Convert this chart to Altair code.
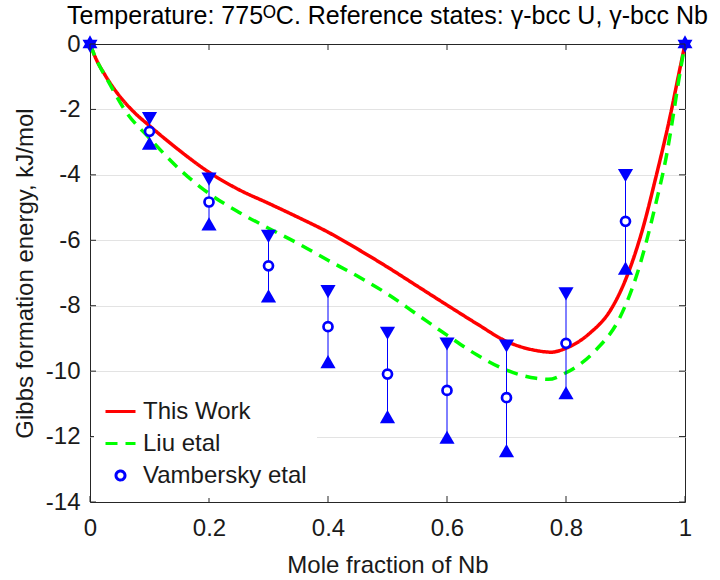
import altair as alt
import pandas as pd

# ---------------- data ----------------
series_names = ["This Work", "Liu etal", "Vambersky etal"]

x_this_work = [0.0, 0.01, 0.025, 0.05, 0.075, 0.1, 0.15, 0.2, 0.25, 0.3, 0.35, 0.4,
               0.45, 0.5, 0.55, 0.6, 0.65, 0.7, 0.75, 0.775, 0.8, 0.84, 0.875,
               0.9, 0.93, 0.95, 0.975, 0.99, 1.0]
g_this_work = [0.0, -0.45, -0.94, -1.6, -2.1, -2.5, -3.25, -3.92, -4.45, -4.87, -5.3,
               -5.75, -6.27, -6.82, -7.4, -7.98, -8.55, -9.09, -9.37, -9.42, -9.3,
               -8.84, -8.13, -7.21, -5.58, -4.15, -2.21, -0.88, 0.0]

x_liu = [0.0, 0.01, 0.03, 0.06, 0.1, 0.15, 0.2, 0.25, 0.3, 0.35, 0.4, 0.45, 0.5,
         0.55, 0.6, 0.65, 0.7, 0.75, 0.77, 0.8, 0.85, 0.89, 0.92, 0.95, 0.97,
         0.98, 0.99, 1.0]
g_liu = [0.0, -0.45, -1.12, -2.06, -2.88, -3.82, -4.57, -5.14, -5.63, -6.1, -6.61,
         -7.1, -7.64, -8.27, -8.9, -9.5, -9.97, -10.22, -10.25, -10.05, -9.36,
         -8.38, -7.0, -4.95, -3.3, -2.21, -1.05, 0.0]

x_vamb = [0.1, 0.2, 0.3, 0.4, 0.5, 0.6, 0.7, 0.8, 0.9]
g_vamb = [-2.67, -4.83, -6.78, -8.64, -10.09, -10.59, -10.81, -9.15, -5.42]
g_vamb_upper = [-2.28, -4.13, -5.88, -7.57, -8.84, -9.17, -9.23, -7.64, -4.02]
g_vamb_lower = [-3.03, -5.50, -7.70, -9.71, -11.39, -12.02, -12.43, -10.66, -6.85]

x_ref = [0.0, 1.0]
g_ref = [0.0, 0.0]

x_ticks = [0.0, 0.2, 0.4, 0.6, 0.8, 1.0]
y_ticks = [0, -2, -4, -6, -8, -10, -12, -14]

title_text = "Temperature: 775\u1d3cC. Reference states: \u03b3-bcc U, \u03b3-bcc Nb"
x_title = "Mole fraction of Nb"
y_title = "Gibbs formation energy, kJ/mol"

# ---------------- tables ----------------
lines_df = pd.concat([
    pd.DataFrame({"x": x_this_work, "y": g_this_work, "series": series_names[0]}),
    pd.DataFrame({"x": x_liu, "y": g_liu, "series": series_names[1]}),
], ignore_index=True)
vamb_df = pd.DataFrame({"x": x_vamb, "y": g_vamb, "hi": g_vamb_upper,
                        "lo": g_vamb_lower, "series": series_names[2]})
ref_df = pd.DataFrame({"x": x_ref, "y": g_ref})
xt_df = pd.DataFrame({"t": x_ticks})
yt_df = pd.DataFrame({"t": y_ticks})

# ---------------- styling ----------------
FONT = "Liberation Sans"
FS = 24
W, H = 595, 458
TXT = "#1a1a1a"
BLUE = "#0000ff"
CIRCLE_PATH = "M0.3,0A0.3,0.3 0 1,1 -0.3,0A0.3,0.3 0 1,1 0.3,0Z"
HEX_PATH = ("M0,-1L0.2887,-0.5L0.866,-0.5L0.5774,0L0.866,0.5L0.2887,0.5L0,1"
            "L-0.2887,0.5L-0.866,0.5L-0.5774,0L-0.866,-0.5L-0.2887,-0.5Z")

xscale = alt.Scale(domain=[0, 1], nice=False, zero=False)
yscale = alt.Scale(domain=[-14, 0], nice=False, zero=False)

xaxis = alt.Axis(values=x_ticks, grid=False, domain=False, ticks=False,
                 labelFlush=False,
                 labelFont=FONT, labelFontSize=FS, labelColor=TXT, labelPadding=14,
                 labelExpr="format(datum.value, '~g')",
                 titleFont=FONT, titleFontSize=FS, titleColor=TXT,
                 titleFontWeight="normal", titlePadding=13)
yaxis = alt.Axis(values=y_ticks, grid=True, gridColor="#e3e3e3", gridWidth=1,
                 gridOpacity={"condition": {"test": "datum.value == 0 || datum.value == -14",
                                            "value": 0}, "value": 1},
                 domain=False, ticks=False, labelFlush=False,
                 labelFont=FONT, labelFontSize=FS, labelColor=TXT, labelPadding=10,
                 labelExpr="datum.value < 0 ? '-' + format(-datum.value, '~g') : format(datum.value, '~g')",
                 titleFont=FONT, titleFontSize=FS, titleColor=TXT,
                 titleFontWeight="normal", titlePadding=8)


def X(field):
    return alt.X(f"{field}:Q", scale=xscale, axis=xaxis, title=x_title)


def Y(field):
    return alt.Y(f"{field}:Q", scale=yscale, axis=yaxis, title=y_title)


leg = alt.Legend(title=None, orient="bottom-left", offset=4, padding=10,
                 fillColor="white", labelFont=FONT, labelFontSize=FS,
                 labelColor=TXT, labelLimit=400, symbolSize=900, symbolStrokeWidth=3,
                 rowPadding=3, labelOffset=6)
color_enc = alt.Color("series:N", scale=alt.Scale(domain=series_names,
                      range=["#ff0000", "#00ff00", BLUE]), legend=leg)
dash_enc = alt.StrokeDash("series:N", scale=alt.Scale(domain=series_names,
                          range=[[1, 0], [12, 8], [1, 0]]), legend=leg)
shape_enc = alt.Shape("series:N", scale=alt.Scale(domain=series_names,
                      range=["stroke", "stroke", CIRCLE_PATH]), legend=leg)

lines = alt.Chart(lines_df).mark_line(strokeWidth=3.5, interpolate="monotone").encode(
    x=X("x"), y=Y("y"), color=color_enc, strokeDash=dash_enc)

bars = alt.Chart(vamb_df).mark_rule(color=BLUE, strokeWidth=1).encode(
    x=X("x"), y=Y("hi"), y2="lo:Q")

tri_down = alt.Chart(vamb_df).mark_point(shape="triangle-down", filled=True, size=230,
                                         color=BLUE, opacity=1).encode(x=X("x"), y=Y("hi"))
tri_up = alt.Chart(vamb_df).mark_point(shape="triangle-up", filled=True, size=230,
                                       color=BLUE, opacity=1).encode(x=X("x"), y=Y("lo"))

circles = alt.Chart(vamb_df).mark_point(filled=False, fill="white", size=900,
                                        strokeWidth=2.7, opacity=1).encode(
    x=X("x"), y=Y("y"), color=color_enc, shape=shape_enc)

stars = alt.Chart(ref_df).mark_point(shape=HEX_PATH, filled=True, size=300,
                                     color=BLUE, opacity=1).encode(x=X("x"), y=Y("y"))

TICK = "#262626"
xt_top = alt.Chart(xt_df).mark_rule(color=TICK, strokeWidth=1).encode(
    x=X("t"), y=alt.value(0), y2=alt.value(6))
xt_bot = alt.Chart(xt_df).mark_rule(color=TICK, strokeWidth=1).encode(
    x=X("t"), y=alt.value(H), y2=alt.value(H - 6))
yt_left = alt.Chart(yt_df).mark_rule(color=TICK, strokeWidth=1).encode(
    y=Y("t"), x=alt.value(0), x2=alt.value(6))
yt_right = alt.Chart(yt_df).mark_rule(color=TICK, strokeWidth=1).encode(
    y=Y("t"), x=alt.value(W), x2=alt.value(W - 6))

chart = alt.layer(
    lines, bars, tri_down, tri_up, circles, stars, xt_top, xt_bot, yt_left, yt_right
).properties(
    width=W, height=H,
    title=alt.TitleParams(title_text, font=FONT, fontSize=25, fontWeight="normal",
                          color="#000000", anchor="middle", offset=3),
    autosize=alt.AutoSizeParams(type="none"),
    padding={"left": 90, "top": 44, "right": 35, "bottom": 78},
).configure(font=FONT).configure_view(stroke="#262626", strokeWidth=1)

chart.save("out.html", embed_options={"renderer": "svg", "actions": False})
